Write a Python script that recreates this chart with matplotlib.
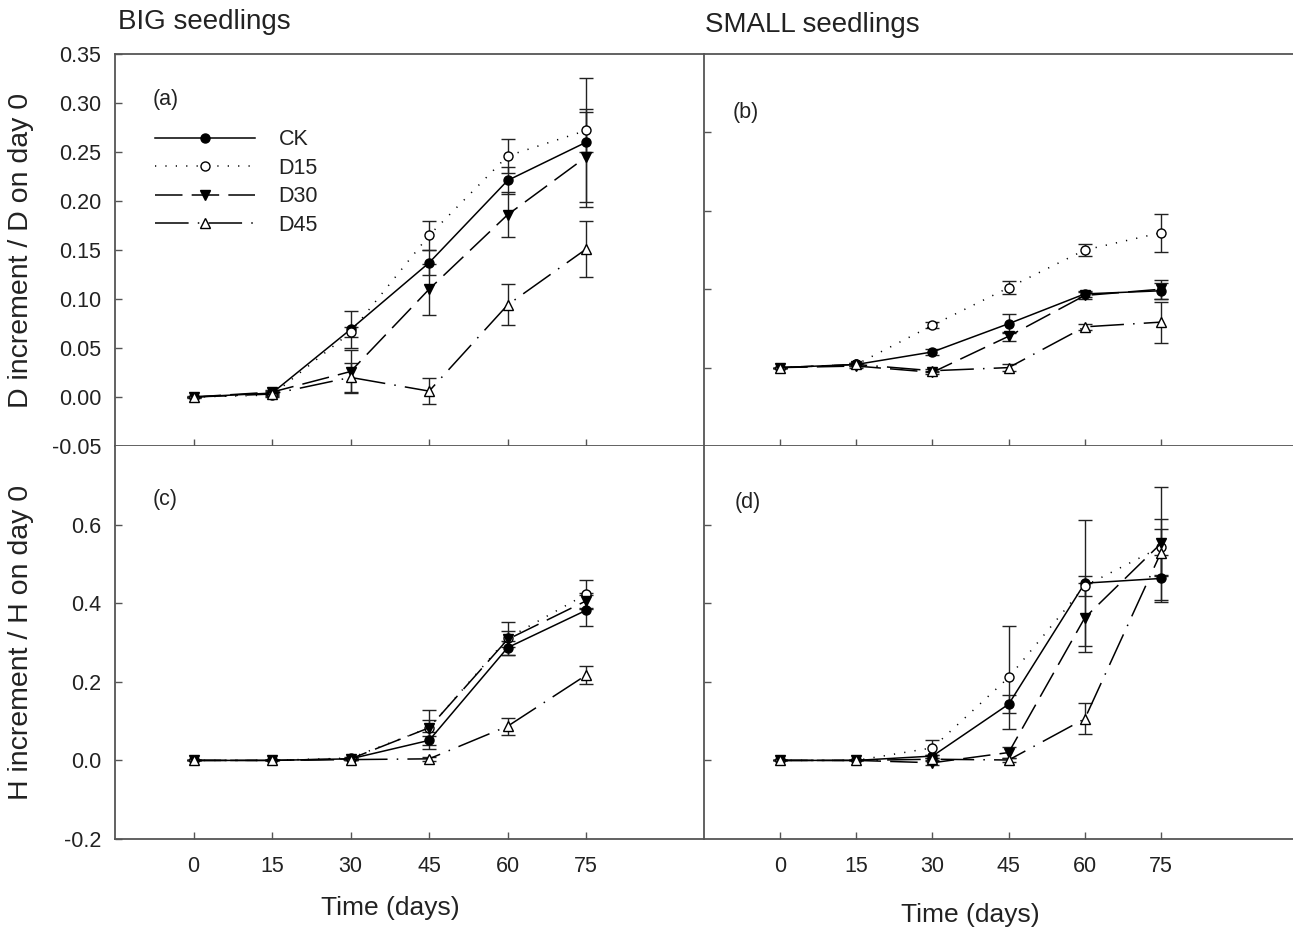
import numpy as np
import matplotlib
matplotlib.use("Agg")
from matplotlib import pyplot as plt
from matplotlib import transforms

plt.rcParams['font.family'] = ['Liberation Sans', 'DejaVu Sans']
plt.rcParams['axes.unicode_minus'] = False

days = [0, 15, 30, 45, 60, 75]
treatments = ["CK", "D15", "D30", "D45"]

# (a) BIG seedlings, diameter
a_mean = {"CK":  [0.000, 0.004, 0.069, 0.137, 0.221, 0.260],
          "D15": [0.000, 0.002, 0.066, 0.165, 0.246, 0.272],
          "D30": [0.000, 0.005, 0.026, 0.110, 0.186, 0.245],
          "D45": [0.000, 0.003, 0.020, 0.006, 0.094, 0.151]}
a_err = {"CK":  [0.001, 0.002, 0.019, 0.013, 0.014, 0.066],
         "D15": [0.000, 0.002, 0.005, 0.015, 0.017, 0.022],
         "D30": [0.000, 0.002, 0.022, 0.026, 0.023, 0.046],
         "D45": [0.000, 0.002, 0.015, 0.013, 0.021, 0.029]}

# (b) SMALL seedlings, diameter
b_mean = {"CK":  [0.000, 0.002, 0.010, 0.028, 0.047, 0.049],
          "D15": [0.000, 0.002, 0.027, 0.051, 0.075, 0.086],
          "D30": [0.000, 0.001, -0.003, 0.020, 0.046, 0.050],
          "D45": [0.000, 0.002, -0.002, 0.000, 0.026, 0.029]}
b_err = {"CK":  [0.000, 0.001, 0.002, 0.006, 0.002, 0.005],
         "D15": [0.000, 0.001, 0.002, 0.004, 0.004, 0.012],
         "D30": [0.000, 0.001, 0.001, 0.003, 0.002, 0.006],
         "D45": [0.000, 0.001, 0.001, 0.002, 0.002, 0.013]}

# (c) BIG seedlings, height
c_mean = {"CK":  [0.000, 0.000, 0.004, 0.051, 0.287, 0.382],
          "D15": [0.000, 0.000, 0.006, 0.083, 0.311, 0.423],
          "D30": [0.000, 0.000, 0.004, 0.083, 0.308, 0.406],
          "D45": [0.000, 0.000, 0.002, 0.004, 0.087, 0.217]}
c_err = {"CK":  [0.000, 0.000, 0.003, 0.021, 0.018, 0.040],
         "D15": [0.000, 0.000, 0.003, 0.020, 0.042, 0.036],
         "D30": [0.000, 0.000, 0.003, 0.045, 0.020, 0.020],
         "D45": [0.000, 0.000, 0.002, 0.005, 0.022, 0.022]}

# (d) SMALL seedlings, height
d_mean = {"CK":  [0.000, 0.000, 0.011, 0.143, 0.451, 0.463],
          "D15": [0.000, 0.000, 0.032, 0.211, 0.444, 0.543],
          "D30": [0.000, 0.000, -0.006, 0.020, 0.363, 0.552],
          "D45": [0.000, 0.000, 0.003, 0.001, 0.106, 0.529]}
d_err = {"CK":  [0.000, 0.000, 0.004, 0.023, 0.160, 0.060],
         "D15": [0.000, 0.000, 0.019, 0.131, 0.026, 0.070],
         "D30": [0.000, 0.000, 0.005, 0.015, 0.088, 0.143],
         "D45": [0.000, 0.000, 0.003, 0.004, 0.039, 0.060]}

styles = {"CK":  dict(ls='-', marker='o', mfc='black', ms=6.5),
          "D15": dict(ls=(0, (0.8, 6)), marker='o', mfc='white', ms=6.5),
          "D30": dict(ls=(0, (18, 6)), marker='v', mfc='black', ms=7),
          "D45": dict(ls=(0, (22, 6, 1, 6)), marker='^', mfc='white', ms=7)}

W, H = 1293, 931
fig = plt.figure(figsize=(W / 100, H / 100), dpi=100)


def frac(x0, y0, x1, y1):
    return [x0 / W, 1 - y1 / H, (x1 - x0) / W, (y1 - y0) / H]


ax_a = fig.add_axes(frac(115, 54, 704, 446))
ax_b = fig.add_axes(frac(704, 54, 1293, 446))
ax_c = fig.add_axes(frac(115, 446, 704, 839))
ax_d = fig.add_axes(frac(704, 446, 1293, 839))

spine_col = '#555555'
text_col = '#222222'

panels = [(ax_a, a_mean, a_err, "(a)", (0.064, 0.883)),
          (ax_b, b_mean, b_err, "(b)", (0.049, 0.850)),
          (ax_c, c_mean, c_err, "(c)", (0.064, 0.863)),
          (ax_d, d_mean, d_err, "(d)", (0.052, 0.855))]

handles = {}
for ax, means, errs, lab, pos in panels:
    for t in treatments:
        st = styles[t]
        cont = ax.errorbar(days, means[t], yerr=errs[t], color='black', lw=1.1,
                           ls=st['ls'], marker=st['marker'], mfc=st['mfc'], mec='black',
                           ms=st['ms'], mew=1.0, ecolor='#222222', elinewidth=1.0,
                           capsize=5, capthick=1.0, label=t)
        if ax is ax_a:
            handles[t] = cont[0]
    ax.text(pos[0], pos[1], lab, transform=ax.transAxes, fontsize=15.5,
            color=text_col, ha='left', va='center')
    ax.spines['right'].set_visible(False)
    for s in ['left', 'top', 'bottom']:
        ax.spines[s].set_color(spine_col)
        ax.spines[s].set_linewidth(1.3)
    ax.tick_params(direction='in', color=spine_col, labelcolor=text_col,
                   labelsize=15.5, length=5, width=1.0, pad=10)
    ax.set_xticks(days)

ax_a.set_xlim(-15, 97.5)
ax_c.set_xlim(-15, 97.5)
ax_b.set_xlim(-15, 101)
ax_d.set_xlim(-15, 101)

ax_a.set_ylim(-0.05, 0.35)
ax_a.set_yticks([-0.05, 0.0, 0.05, 0.10, 0.15, 0.20, 0.25, 0.30, 0.35])
ax_a.set_yticklabels(["-0.05", "0.00", "0.05", "0.10", "0.15", "0.20", "0.25", "0.30", "0.35"])
ax_b.set_ylim(-0.05, 0.20)
ax_b.set_yticks([0.0, 0.05, 0.10, 0.15])
ax_c.set_ylim(-0.2, 0.8)
ax_c.set_yticks([-0.2, 0.0, 0.2, 0.4, 0.6])
ax_c.set_yticklabels(["-0.2", "0.0", "0.2", "0.4", "0.6"])
ax_d.set_ylim(-0.2, 0.8)
ax_d.set_yticks([0.0, 0.2, 0.4, 0.6])

for ax in [ax_b, ax_d]:
    ax.tick_params(labelleft=False)
for ax in [ax_a, ax_b]:
    ax.tick_params(labelbottom=False)
for ax in [ax_c, ax_d]:
    ax.spines['top'].set_visible(False)
ax_c.tick_params(axis='x', pad=12)
ax_d.tick_params(axis='x', pad=12)

ax_a.set_ylabel("D increment / D on day 0", fontsize=20.5, color=text_col)
ax_a.yaxis.set_label_coords(-0.138, 0.5)
ax_c.set_ylabel("H increment / H on day 0", fontsize=20.5, color=text_col)
ax_c.yaxis.set_label_coords(-0.138, 0.5)

tr_c = transforms.blended_transform_factory(ax_c.transData, fig.transFigure)
ax_c.text(37.5, 1 - 908 / H, "Time (days)", transform=tr_c, fontsize=19,
          color=text_col, ha='center', va='center')
tr_d = transforms.blended_transform_factory(ax_d.transData, fig.transFigure)
ax_d.text(37.5, 1 - 915 / H, "Time (days)", transform=tr_d, fontsize=19,
          color=text_col, ha='center', va='center')

fig.text(118 / W, 1 - 22 / H, "BIG seedlings", fontsize=20, color=text_col,
         ha='left', va='center')
fig.text(705 / W, 1 - 25 / H, "SMALL seedlings", fontsize=20, color=text_col,
         ha='left', va='center')

leg = ax_a.legend([handles[t] for t in treatments], treatments,
                  loc='upper left', bbox_to_anchor=(0.053, 0.83), frameon=False,
                  fontsize=15.5, handlelength=4.65, handletextpad=1.1,
                  labelspacing=0.35, numpoints=1, borderaxespad=0)
for txt in leg.get_texts():
    txt.set_color(text_col)

fig.savefig("out.png", dpi=100)
